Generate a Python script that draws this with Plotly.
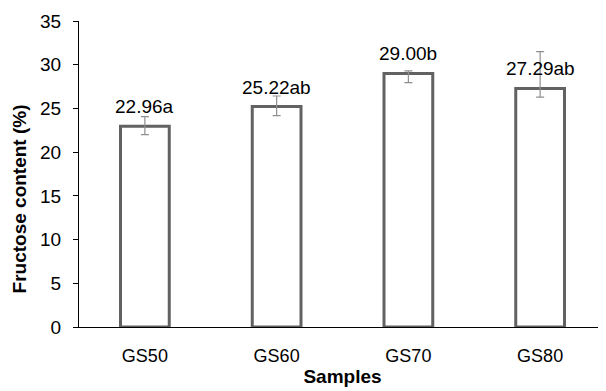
import plotly.graph_objects as go

samples = ["GS50", "GS60", "GS70", "GS80"]
fructose = [22.96, 25.22, 29.00, 27.29]
err_plus = [1.1, 1.2, 0.3, 4.2]
err_minus = [0.95, 1.05, 1.05, 1.0]
letters = ["a", "ab", "b", "ab"]
y_ticks = [0, 5, 10, 15, 20, 25, 30, 35]

FONT = "Liberation Sans, Arial, sans-serif"

fig = go.Figure()
fig.add_trace(go.Bar(
    x=samples, y=fructose, width=0.37,
    marker=dict(color="white", line=dict(color="#626262", width=3)),
    error_y=dict(type="data", symmetric=False, array=err_plus, arrayminus=err_minus,
                 color="#8f8f8f", thickness=1.2, width=4),
    showlegend=False,
))

for s, v, l in zip(samples, fructose, letters):
    fig.add_annotation(x=s, y=v, text=f"{v:.2f}{l}", showarrow=False,
                       yanchor="bottom", yshift=7,
                       font=dict(family=FONT, size=19, color="black"))

fig.add_annotation(xref="paper", yref="paper", x=-0.112, y=0.42,
                   xanchor="center", yanchor="middle",
                   text="<b>Fructose content (%)</b>", textangle=-90, showarrow=False,
                   font=dict(family=FONT, size=19, color="black"))

# page body adds an 8px offset; compensate so the plot area lands at x 79-606, y 21-327
fig.update_layout(
    width=598, height=383,
    margin=dict(l=71, r=0, t=13, b=64, autoexpand=False),
    paper_bgcolor="white", plot_bgcolor="white",
    font=dict(family=FONT, size=18, color="black"),
    bargap=0.6,
)
fig.update_xaxes(
    type="category", range=[-0.5, 3.5],
    showline=True, linecolor="black", linewidth=1,
    ticks="", showgrid=False, zeroline=False,
    tickfont=dict(size=18), ticklabelstandoff=12,
    title=dict(text="<b>Samples</b>", font=dict(size=19), standoff=5),
)
fig.update_yaxes(
    range=[0, 35], tickvals=y_ticks,
    showline=True, linecolor="black", linewidth=1,
    ticks="outside", ticklen=5, tickcolor="black",
    showgrid=False, zeroline=False,
    tickfont=dict(size=19), ticklabelstandoff=8,
)

fig.write_html("out.html")
